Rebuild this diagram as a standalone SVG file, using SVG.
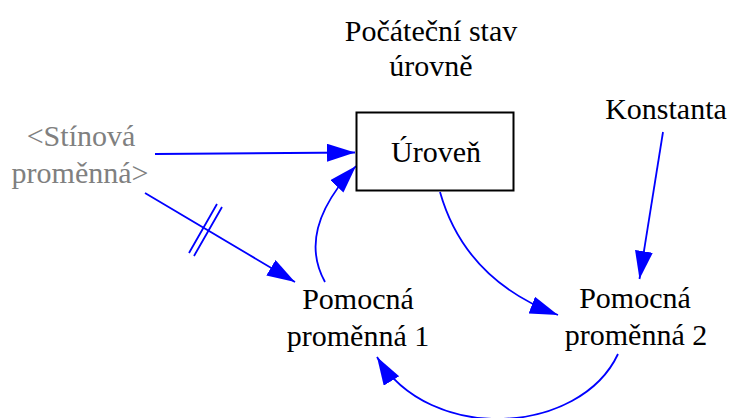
<svg xmlns="http://www.w3.org/2000/svg" width="730" height="418" viewBox="0 0 730 418">
<style>
.t{font-family:"Liberation Serif","Times New Roman",serif;font-size:30px;text-anchor:middle;fill:#000}
.shadow{fill:#808080}
.c{fill:none;stroke:#0000ff;stroke-width:1.8}
.box{fill:#fff;stroke:#000;stroke-width:2}
</style>
<defs>
<marker id="ah" markerUnits="userSpaceOnUse" markerWidth="30" markerHeight="20" refX="28" refY="9" orient="auto" viewBox="0 0 30 20">
<path d="M0,0 L28,9 L0,18 z" fill="#0000ff"/>
</marker>
</defs>
<rect width="730" height="418" fill="#fff"/>
<g id="connectors">
<path class="c" d="M155,154 L355,152.5" marker-end="url(#ah)"/>
<path class="c" d="M145,193 L295,282" marker-end="url(#ah)"/>
<path class="c" d="M189,253 L217,204 M194,256 L222,207"/>
<path class="c" d="M325,282 Q296,230 356,166" marker-end="url(#ah)"/>
<path class="c" d="M440,192 Q465,280 558,315" marker-end="url(#ah)"/>
<path class="c" d="M663,132 L639.5,279" marker-end="url(#ah)"/>
<path class="c" d="M618,354 C580,435 430,445 377,357" marker-end="url(#ah)"/>
</g>
<g id="pocatecni">
<text class="t" x="431" y="41">Počáteční stav</text>
<text class="t" x="431" y="76">úrovně</text>
</g>
<g id="uroven">
<rect class="box" x="356.5" y="112.5" width="157" height="78"/>
<text class="t" x="436" y="162">Úroveň</text>
</g>
<g id="konstanta">
<text class="t" x="666" y="119">Konstanta</text>
</g>
<g id="stinova">
<text class="t shadow" x="81" y="146">&lt;Stínová</text>
<text class="t shadow" x="80" y="183">proměnná&gt;</text>
</g>
<g id="pomocna1">
<text class="t" x="358" y="309">Pomocná</text>
<text class="t" x="358" y="346">proměnná 1</text>
</g>
<g id="pomocna2">
<text class="t" x="635" y="308">Pomocná</text>
<text class="t" x="636" y="345">proměnná 2</text>
</g>
</svg>
